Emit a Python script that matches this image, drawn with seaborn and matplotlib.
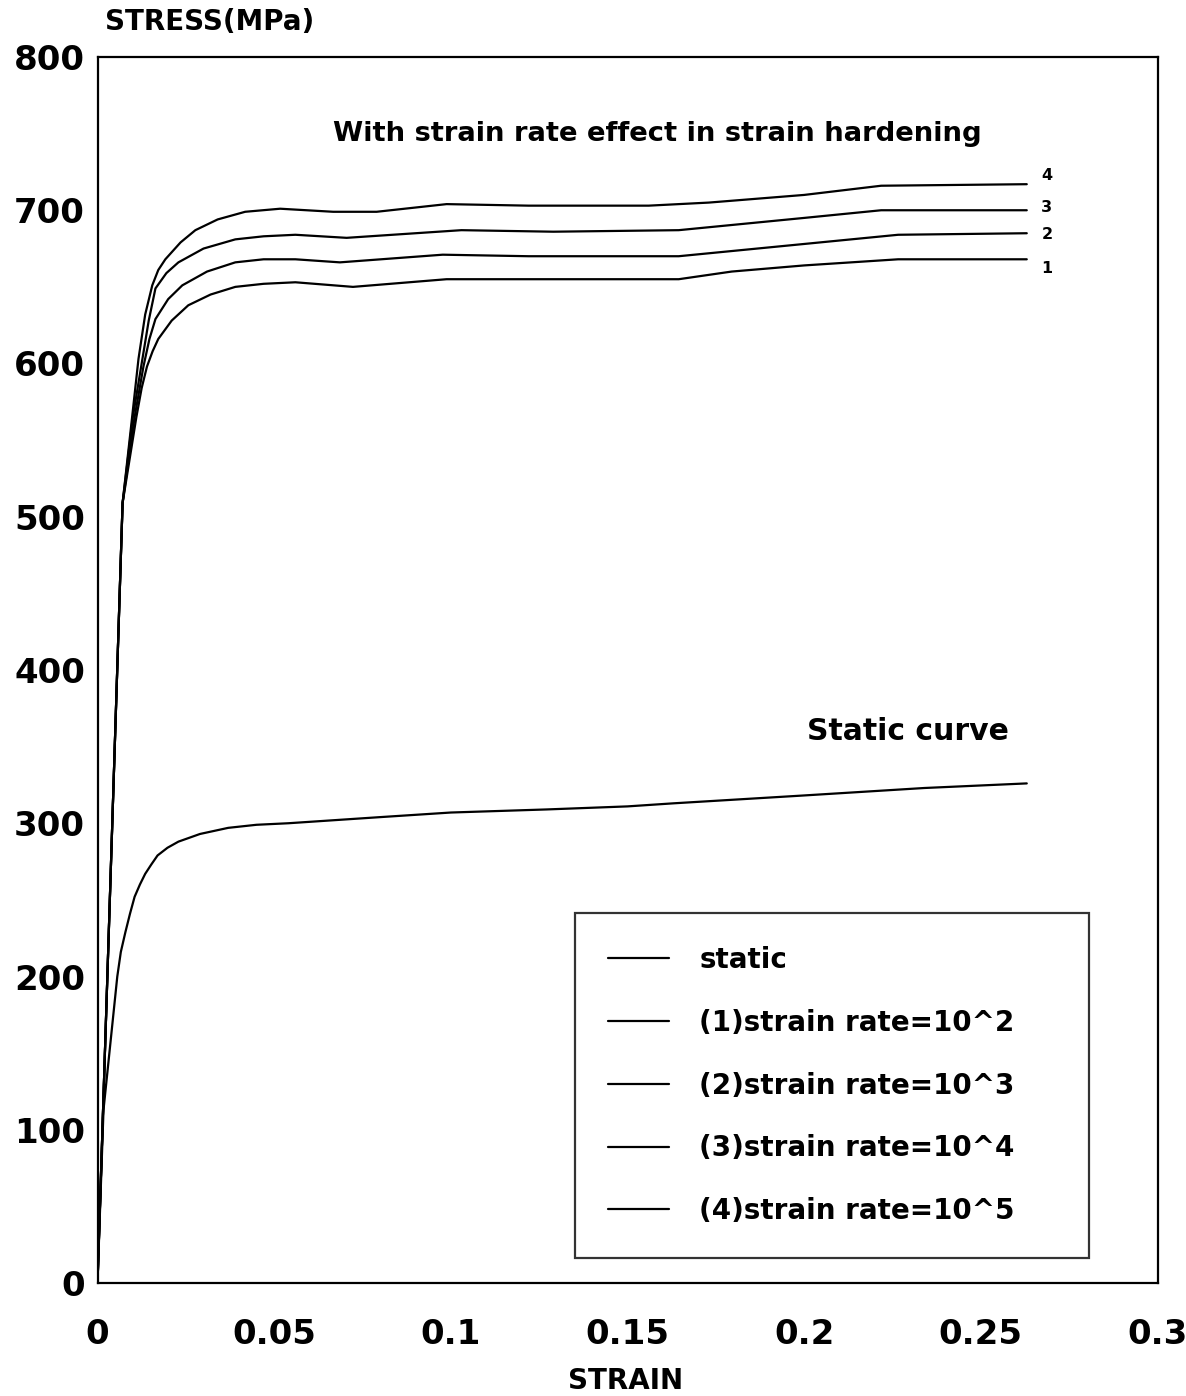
import matplotlib
matplotlib.use("Agg")
import matplotlib.pyplot as plt
import seaborn as sns
import pandas as pd

# Static stress-strain curve
static_strain = [0, 0.0017, 0.0056, 0.0066, 0.0079, 0.0092, 0.0105, 0.012, 0.0135, 0.0152,
                 0.017, 0.0198, 0.0229, 0.029, 0.037, 0.045, 0.054,
                 0.08, 0.10, 0.127, 0.15, 0.163, 0.199, 0.234, 0.263]
static_stress = [0, 113, 200, 216, 229, 241, 252, 260, 267, 273,
                 279, 284, 288, 293, 297, 299, 300,
                 304, 307, 309, 311, 313, 318, 323, 326]

# Curves with strain rate effect in strain hardening
rate1_strain = [0, 0.0071, 0.011, 0.0125, 0.0140, 0.0156, 0.0172, 0.021, 0.0257, 0.032,
                0.039, 0.047, 0.056, 0.0723, 0.0988,
                0.117, 0.1645, 0.1795, 0.2, 0.2266, 0.263]
rate1_stress = [0, 509, 565, 584, 598, 608, 616, 628, 638, 645,
                650, 652, 653, 650, 655,
                655, 655, 660, 664, 668, 668]

rate2_strain = [0, 0.0071, 0.0105, 0.013, 0.0147, 0.0164, 0.020, 0.024, 0.031, 0.039,
                0.047, 0.056, 0.0686, 0.0977,
                0.122, 0.1645, 0.2, 0.2266, 0.263]
rate2_stress = [0, 509, 565, 598, 616, 629, 642, 651, 660, 666,
                668, 668, 666, 671,
                670, 670, 678, 684, 685]

rate3_strain = [0, 0.0071, 0.010, 0.0125, 0.0145, 0.0164, 0.0195, 0.0229, 0.030, 0.039,
                0.047, 0.056, 0.0705, 0.103,
                0.129, 0.1645, 0.2, 0.2218, 0.263]
rate3_stress = [0, 509, 565, 600, 628, 649, 659, 666, 675, 681,
                683, 684, 682, 687,
                686, 687, 695, 700, 700]

rate4_strain = [0, 0.0071, 0.0097, 0.0116, 0.0135, 0.0155, 0.0172, 0.0192, 0.0235, 0.0277,
                0.034, 0.0418, 0.0517, 0.0667,
                0.079, 0.0988, 0.122, 0.156, 0.173, 0.2, 0.2218, 0.263]
rate4_stress = [0, 509, 563, 603, 632, 651, 661, 668, 679, 687,
                694, 699, 701, 699,
                699, 704, 703, 703, 705, 710, 716, 717]

series_labels = ["static", "(1)strain rate=10^2", "(2)strain rate=10^3",
                 "(3)strain rate=10^4", "(4)strain rate=10^5"]
curve_numbers = ["1", "2", "3", "4"]
curve_number_y = [662, 684, 702, 723]

x_ticks = [0, 0.05, 0.1, 0.15, 0.2, 0.25, 0.3]
x_tick_labels = ["0", "0.05", "0.1", "0.15", "0.2", "0.25", "0.3"]
y_ticks = [0, 100, 200, 300, 400, 500, 600, 700, 800]
y_tick_labels = ["0", "100", "200", "300", "400", "500", "600", "700", "800"]

sns.set_theme(style="white")
plt.rcParams["font.family"] = ["DejaVu Sans"]
plt.rcParams["font.weight"] = "bold"
plt.rcParams["text.color"] = "black"
plt.rcParams["legend.labelcolor"] = "black"

fig = plt.figure(figsize=(11.86, 13.96), dpi=100)
ax = fig.add_axes([97.5 / 1186, 113 / 1396, 1060 / 1186, 1226 / 1396])

curves = [
    (static_strain, static_stress),
    (rate1_strain, rate1_stress),
    (rate2_strain, rate2_stress),
    (rate3_strain, rate3_stress),
    (rate4_strain, rate4_stress),
]
for (xs, ys), lab in zip(curves, series_labels):
    df = pd.DataFrame({"strain": xs, "stress": ys})
    sns.lineplot(data=df, x="strain", y="stress", ax=ax, color="black",
                 linewidth=1.6, sort=False, estimator=None, label=lab)

ax.set_xlim(0, 0.3)
ax.set_ylim(0, 800)
ax.set_xticks(x_ticks)
ax.set_xticklabels(x_tick_labels)
ax.set_yticks(y_ticks)
ax.set_yticklabels(y_tick_labels)
ax.set_xlabel("")
ax.set_ylabel("")

for sp in ax.spines.values():
    sp.set_visible(True)
    sp.set_color("black")
    sp.set_linewidth(1.6)

ax.tick_params(axis="x", direction="in", length=11, width=1.6, color="black",
               labelsize=24.5, pad=25, labelcolor="black")
ax.tick_params(axis="y", direction="in", length=12, width=1.6, color="black",
               labelsize=24.5, pad=9, labelcolor="black")
for lbl in ax.get_xticklabels() + ax.get_yticklabels():
    lbl.set_fontweight("bold")

# Axis titles
fig.text(210 / 1186, 1 - 22 / 1396, "STRESS(MPa)", ha="center", va="center",
         fontsize=20, fontweight="bold", color="black")
fig.text(626 / 1186, 1 - 1381 / 1396, "STRAIN", ha="center", va="center",
         fontsize=20, fontweight="bold", color="black")

# Annotations
ax.text(0.1585, 750, "With strain rate effect in strain hardening", ha="center",
        va="center", fontsize=19.7, fontweight="bold", color="black")
ax.text(0.2295, 360, "Static curve", ha="center", va="center",
        fontsize=21.5, fontweight="bold", color="black")
for num, yv in zip(curve_numbers, curve_number_y):
    ax.text(0.2687, yv, num, ha="center", va="center", fontsize=11.5,
            fontweight="bold", color="black")

leg = ax.legend(loc="upper left", bbox_to_anchor=(0.4505, 0.0228, 0.4845, 0.2792),
                mode="expand", borderaxespad=0, frameon=True, fancybox=False,
                edgecolor="black", handlelength=2.2,
                handletextpad=1.08, labelspacing=1.25, borderpad=1.2,
                labelcolor="black", prop={"weight": "bold", "size": 20})
leg.get_frame().set_linewidth(1.6)
leg.get_frame().set_edgecolor("black")
for line in leg.get_lines():
    line.set_linewidth(1.6)

fig.savefig("out.png", dpi=100, facecolor="white")
